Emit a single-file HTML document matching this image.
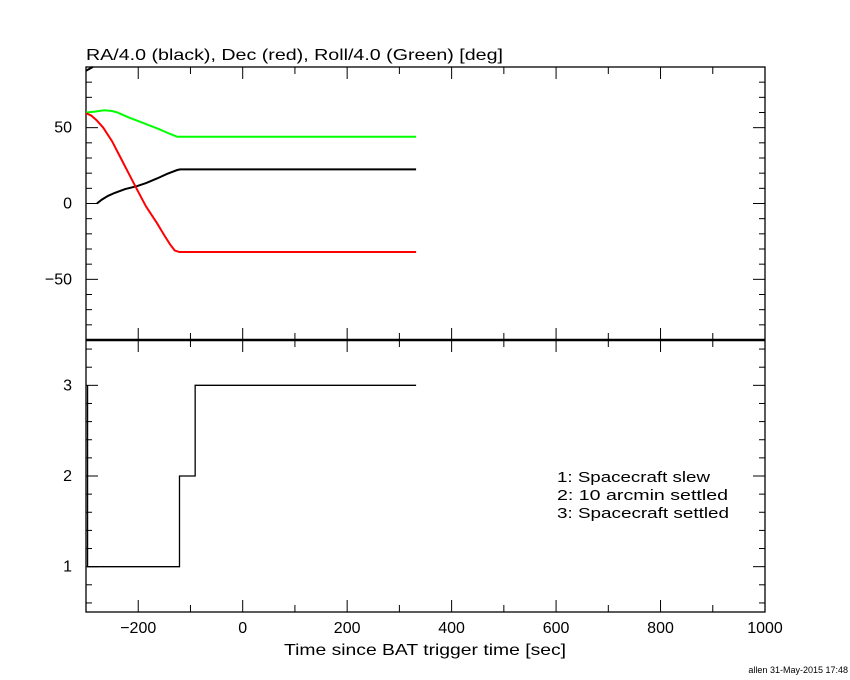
<!DOCTYPE html>
<html><head><meta charset="utf-8"><style>
body{margin:0;background:#fff}
svg{display:block;font-family:"Liberation Sans",sans-serif}
</style></head><body>
<svg id="c" width="850" height="680">
<rect width="850" height="680" fill="#fff"/>
</svg>
<script>
const xTicks=[-200,0,200,400,600,800,1000];
const topTicks=[-50,0,50];
const botTicks=[1,2,3];
const raWrap=[[-300,87.5],[-287,90]];
const raSeries=[[-279,0],[-270,2.5],[-258,5],[-245,7],[-225,9.5],[-202,11.5],[-185,13.5],[-164,16.5],[-145,19.5],[-126,22],[-120,22.5],[332,22.5]];
const decSeries=[[-300,59.5],[-290,58],[-280,55],[-267,50],[-250,41],[-235,31],[-220,21],[-202,9],[-185,-2],[-164,-13],[-150,-21],[-139,-27],[-130,-31],[-121,-32],[332,-32]];
const rollSeries=[[-300,60],[-285,60.5],[-265,61.5],[-250,61],[-240,60],[-220,57],[-190,53],[-160,49],[-140,46],[-125,44],[332,44]];
const stepSeries=[[-297,3],[-297,1],[-121,1],[-121,2],[-91,2],[-91,3],[332,3]];
const legend=["1: Spacecraft slew","2: 10 arcmin settled","3: Spacecraft settled"];
const legendW=[153,171,172];

const L=86,R=765,T=67,M=340,B=612;
const sx=v=>L+(v+300)/1300*(R-L);
const sy1=v=>T+(90-v)/180*(M-T);
const sy2=v=>M+(3.5-v)/3*(B-M);
const svg=document.getElementById('c');
const NS='http://www.w3.org/2000/svg';
function mk(t,a,txt){const e=document.createElementNS(NS,t);for(const k in a)e.setAttribute(k,a[k]);if(txt!==undefined)e.textContent=txt;svg.appendChild(e);return e;}
function line(x1,y1,x2,y2,w){return mk('line',{x1,y1,x2,y2,stroke:'#000','stroke-width':w||1});}
let f=mk('rect',{x:L,y:T,width:R-L,height:B-T,fill:'none',stroke:'#000','stroke-width':1.3});


let d=line(L,M,R,M,2.5);


for(let v=-200;v<=1000;v+=100){const maj=v%200===0;const len=maj?12:7;const x=sx(v);
 line(x,T,x,T+len);line(x,M-len,x,M);line(x,M,x,M+len);line(x,B-len,x,B);}
for(let v=-80;v<=80;v+=10){const maj=v%50===0;const len=maj?12:6;const y=sy1(v);line(L,y,L+len,y);line(R-len,y,R,y);}
for(let v=0.6;v<=3.41;v+=0.2){const vv=Math.round(v*10)/10;const maj=Math.abs(vv-Math.round(vv))<0.01;const len=maj?12:6;const y=sy2(vv);line(L,y,L+len,y);line(R-len,y,R,y);}
xTicks.forEach(v=>{let t=mk('text',{x:sx(v),y:633,'text-anchor':'middle','font-size':16},v<0?'\u2212'+(-v):String(v));
 
 });
topTicks.forEach(v=>{let t=mk('text',{x:72,y:sy1(v)+5,'text-anchor':'end','font-size':16},v<0?'\u2212'+(-v):String(v));
 
 });
botTicks.forEach(v=>{let t=mk('text',{x:72,y:sy2(v)+5,'text-anchor':'end','font-size':16},String(v));
 
 });
function path(data,sy,color,name,w){const p=mk('polyline',{points:data.map(q=>sx(q[0])+','+sy(q[1])).join(' '),fill:'none',stroke:color,'stroke-width':w});
 
 }
path(raWrap,sy1,'#000','ra-wrap-line',2);
path(raSeries,sy1,'#000','ra-line',2);
path(rollSeries,sy1,'#00ff00','roll-line',2);
path(decSeries,sy1,'#ff0000','dec-line',2);
path(stepSeries,sy2,'#000','settle-status-line',1.3);
let ti=mk('text',{x:86,y:60,'font-size':16,textLength:417,lengthAdjust:'spacingAndGlyphs'},'RA/4.0 (black), Dec (red), Roll/4.0 (Green) [deg]');


let xt=mk('text',{x:284,y:655,'font-size':16,textLength:282,lengthAdjust:'spacingAndGlyphs'},'Time since BAT trigger time [sec]');


legend.forEach((s,i)=>{let t=mk('text',{x:557,y:482+i*18,'font-size':15,textLength:legendW[i],lengthAdjust:'spacingAndGlyphs'},s);
 
 });
let ft=mk('text',{x:848,y:673,'text-anchor':'end','font-size':9},'allen 31-May-2015 17:48');


</script>
</body></html>
